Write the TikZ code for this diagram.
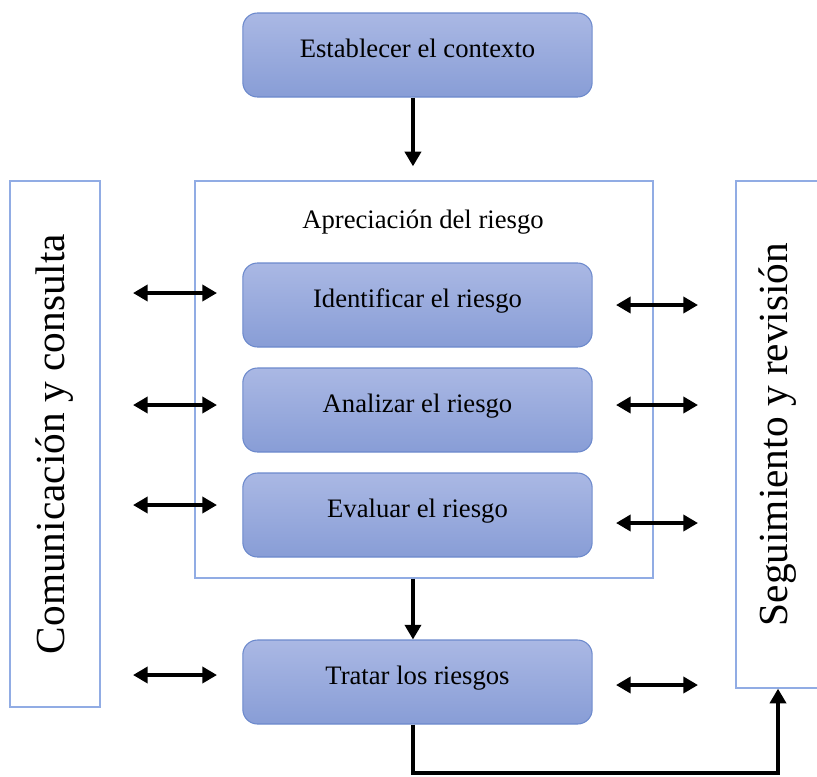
\documentclass[tikz,border=0pt]{standalone}
\usepackage{fontspec}
\setmainfont{Liberation Serif}
\usetikzlibrary{arrows.meta}

\definecolor{boxtop}{RGB}{170,184,228}
\definecolor{boxbot}{RGB}{136,157,214}
\definecolor{boxline}{RGB}{108,137,204}
\definecolor{frameline}{RGB}{145,172,228}

\tikzset{
  stage/.style={draw=boxline, line width=0.8pt, rounded corners=11pt,
    top color=boxtop, bottom color=boxbot,
    minimum width=262pt, minimum height=63pt,
    text height=14pt, text depth=11pt,
    font=\fontsize{20}{24}\selectfont},
  outerbox/.style={draw=frameline, line width=1pt, inner sep=0pt},
  sidebox/.style={outerbox, rotate=90, font=\fontsize{31}{36}\selectfont},
  arr/.style={line width=3pt, -{Triangle[length=11pt,width=12pt]}},
  dblarr/.style={line width=3pt, {Triangle[length=11pt,width=12pt]}-{Triangle[length=11pt,width=12pt]}},
}

\begin{document}
\begin{tikzpicture}[x=0.75pt, y=-0.75pt]
  \useasboundingbox (0,0) rectangle (817,776);

  % side frames
  \node[sidebox, minimum width=394.5pt, minimum height=67.5pt] (com) at (55,444) {Comunicación y consulta};
  \node[sidebox, minimum width=380.25pt, minimum height=63pt] (seg) at (778,434.5) {Seguimiento y revisión};

  % risk assessment frame
  \node[outerbox, minimum width=343.5pt, minimum height=297.75pt] (aprec) at (424,379.5) {};
  \node[font=\fontsize{20}{24}\selectfont] (titulo) at (423,222) {Apreciación del riesgo};

  % stages
  \node[stage] (est) at (417.5,55) {Establecer el contexto};
  \node[stage] (ident) at (417.5,305) {Identificar el riesgo};
  \node[stage] (anal) at (417.5,410) {Analizar el riesgo};
  \node[stage] (eval) at (417.5,515) {Evaluar el riesgo};
  \node[stage] (trat) at (417.5,682) {Tratar los riesgos};

  \draw[arr, shorten >=10.5pt] ([xshift=-3.4pt]est.south) -- ([xshift=-3.4pt]est.south |- aprec.north);
  \draw[arr] ([xshift=-3.4pt]trat.north |- aprec.south) -- ([xshift=-3.4pt]trat.north);

  % two-way arrows to the side frames
  \foreach \n/\yl/\yr in {1/293/305, 2/405/405, 3/505/523, 4/675/685} {
    \coordinate (la\n) at (133,\yl);
    \coordinate (lb\n) at (217,\yl);
    \coordinate (ra\n) at (616,\yr);
    \coordinate (rb\n) at (698,\yr);
    \draw[dblarr] (la\n) -- (lb\n);
    \draw[dblarr] (ra\n) -- (rb\n);
  }

  \coordinate (fondo) at (600,773);
  \draw[arr] ([xshift=-3.4pt]trat.south) |- (fondo) -| (seg.west);
\end{tikzpicture}
\end{document}
